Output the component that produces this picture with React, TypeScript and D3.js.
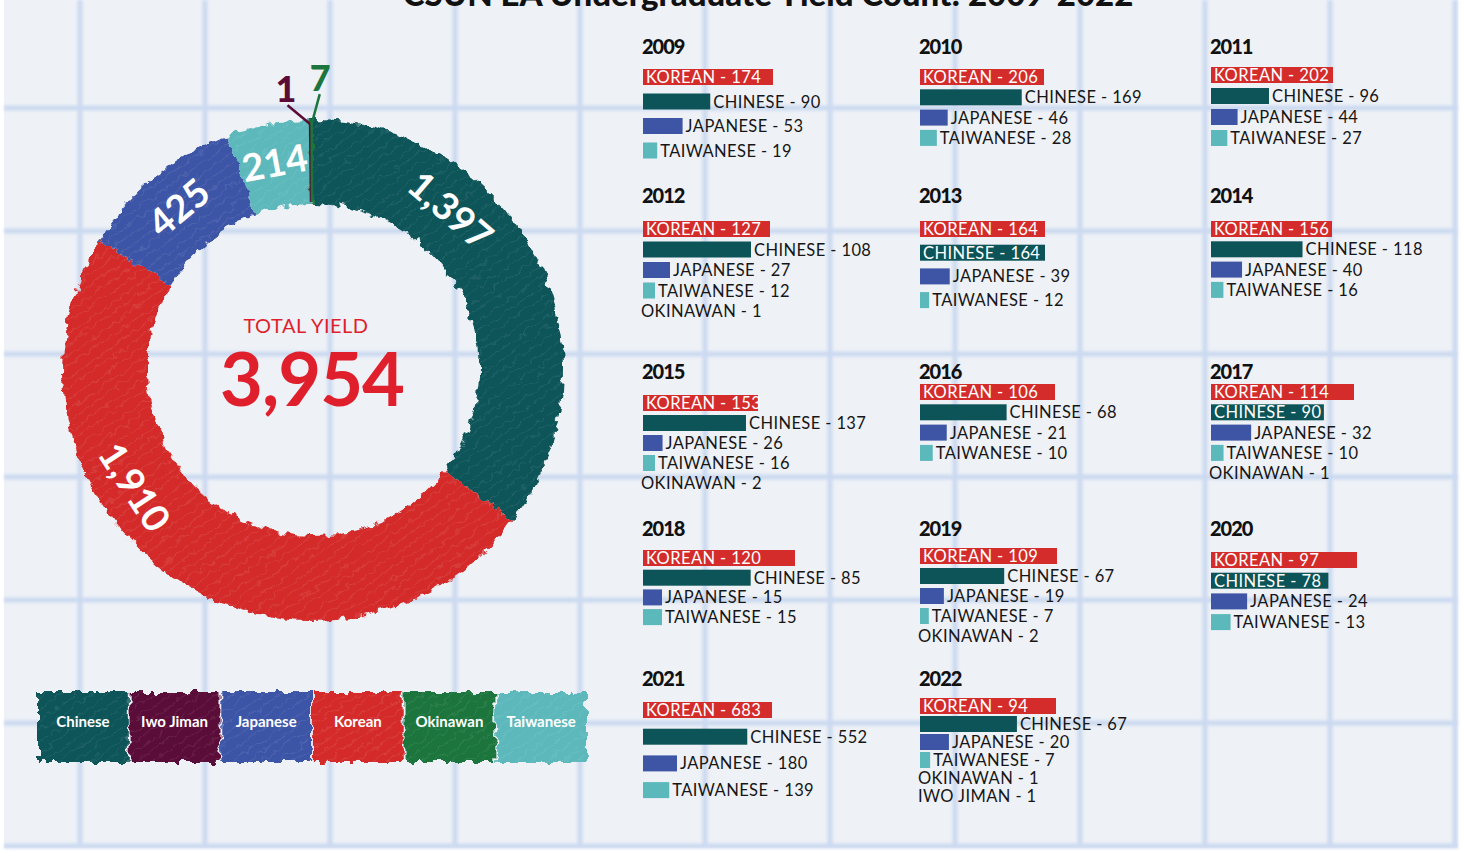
import React, { useEffect, useRef } from "react";
import * as d3 from "d3";

const W = 1465;
const H = 852;
const FONT = "Lato, 'Open Sans', sans-serif";

// donut totals, in the order they run clockwise from 12 o'clock
const groups = ["Chinese", "Korean", "Japanese", "Taiwanese", "Iwo Jiman", "Okinawan"];
const groupTotals = [1397, 1910, 425, 214, 1, 7];
const totalYield = 3954;

const legendNames = ["Chinese", "Iwo Jiman", "Japanese", "Korean", "Okinawan", "Taiwanese"];

// yearly panels
const years = ["2009", "2010", "2011", "2012", "2013", "2014", "2015", "2016", "2017", "2018", "2019", "2020", "2021", "2022"];
const korean = [174, 206, 202, 127, 164, 156, 153, 106, 114, 120, 109, 97, 683, 94];
const chinese = [90, 169, 96, 108, 164, 118, 137, 68, 90, 85, 67, 78, 552, 67];
const japanese = [53, 46, 44, 27, 39, 40, 26, 21, 32, 15, 19, 24, 180, 20];
const taiwanese = [19, 28, 27, 12, 12, 16, 16, 10, 10, 15, 7, 13, 139, 7];
const okinawan = [0, 0, 0, 1, 0, 0, 2, 0, 1, 0, 2, 0, 0, 1];
const iwoJiman = [0, 0, 0, 0, 0, 0, 0, 0, 0, 0, 0, 0, 0, 1];

const colors: Record<string, string> = {
  Chinese: "#0c5458",
  Korean: "#d42c2b",
  Japanese: "#3e55a6",
  Taiwanese: "#5bb8bb",
  "Iwo Jiman": "#5a0c37",
  Okinawan: "#1c753d",
};

// layout of the year panels (hand placed in the original)
const colX = [643, 920, 1211];
const rowY = [47, 196, 372, 529, 679];
const panelOffset = [30, 30, 28, 33, 33, 33, 31, 20, 20, 29, 27, 31, 31, 27];
const panelStep = [24.5, 20.3, 21, 20.5, 23.7, 20.3, 20, 20.3, 20.3, 19.7, 20, 20.7, 26.7, 18];
const panelBarMax = [130, 124, 122, 127, 125, 121, 115, 135, 143, 152, 137, 146, 129, 136];

// where along each arc its number sits
const labelAt = [0.32, 0.63, 0.5, 0.5];

function YieldChart() {
  const svgRef = useRef<SVGSVGElement>(null);

  useEffect(() => {
    const svg = d3.select(svgRef.current);
    svg.selectAll("*").remove();

    const defs = svg.append("defs");
    const rough = defs.append("filter").attr("id", "rough").attr("x", "-10%").attr("y", "-10%").attr("width", "120%").attr("height", "120%");
    rough.append("feTurbulence").attr("type", "fractalNoise").attr("baseFrequency", "0.11").attr("numOctaves", 2).attr("seed", 3).attr("result", "noise");
    rough.append("feDisplacementMap").attr("in", "SourceGraphic").attr("in2", "noise").attr("scale", 11).attr("xChannelSelector", "R").attr("yChannelSelector", "G");

    const hatch = defs.append("pattern").attr("id", "hatch").attr("patternUnits", "userSpaceOnUse")
      .attr("width", 9).attr("height", 9).attr("patternTransform", "rotate(-35)");
    hatch.append("line").attr("x1", 0).attr("y1", 0).attr("x2", 9).attr("y2", 0)
      .attr("stroke", "#ffffff").attr("stroke-width", 1).attr("stroke-opacity", 0.18);

    const soft = defs.append("filter").attr("id", "soft");
    soft.append("feGaussianBlur").attr("stdDeviation", 1.6);

    // graph paper
    svg.append("rect").attr("width", W).attr("height", H).attr("fill", "#ffffff");
    svg.append("rect").attr("x", 4).attr("width", W - 11).attr("height", H - 4).attr("fill", "#eef1f6");
    const grid = svg.append("g").attr("filter", "url(#soft)").attr("stroke", "#c6d6f0").attr("stroke-width", 5).attr("opacity", 0.85);
    grid.selectAll(".v").data(d3.range(80, W - 8, 125)).join("line").attr("class", "v")
      .attr("x1", d => d).attr("x2", d => d).attr("y1", 0).attr("y2", H - 4);
    grid.selectAll(".h").data(d3.range(108, H - 4, 123)).join("line").attr("class", "h")
      .attr("y1", d => d).attr("y2", d => d).attr("x1", 4).attr("x2", W - 7);

    // title, cut off by the top edge as in the original
    svg.append("text").attr("x", 768).attr("y", 6).attr("text-anchor", "middle")
      .attr("font-family", FONT).attr("font-weight", 900).attr("font-size", 33).attr("fill", "#111")
      .text("CSUN EA Undergraduate Yield Count: 2009-2022");

    // donut
    const cx = 313, cy = 370, rIn = 166, rOut = 250;
    const pie = d3.pie<number>().sort(null).value(d => d);
    const arcs = pie(groupTotals);
    const arc = d3.arc<d3.PieArcDatum<number>>().innerRadius(rIn).outerRadius(rOut);
    const donut = svg.append("g").attr("transform", `translate(${cx},${cy})`);
    const rings = donut.append("g").attr("filter", "url(#rough)");
    rings.selectAll(".seg").data(arcs).join("path").attr("class", "seg")
      .attr("d", arc).attr("fill", (d, i) => colors[groups[i]]);
    rings.selectAll(".tex").data(arcs).join("path").attr("class", "tex")
      .attr("d", arc).attr("fill", "url(#hatch)");

    const fmt = d3.format(",");
    arcs.forEach((a, i) => {
      if (i >= labelAt.length) return;
      const ang = a.startAngle + (a.endAngle - a.startAngle) * labelAt[i];
      const r = 212;
      let deg = (ang * 180) / Math.PI;
      if (deg > 90 && deg < 270) deg -= 180;
      if (deg >= 270) deg -= 360;
      donut.append("text")
        .attr("transform", `translate(${r * Math.sin(ang)},${-r * Math.cos(ang)}) rotate(${deg})`)
        .attr("text-anchor", "middle").attr("dominant-baseline", "central")
        .attr("font-family", FONT).attr("font-weight", 700).attr("font-size", 38).attr("fill", "#fff")
        .text(fmt(groupTotals[i]));
    });

    // the two tiny slices get call-out numbers
    const tiny = [
      { i: 4, angDeg: -5.5, r: 283 },
      { i: 5, angDeg: 1.4, r: 293 },
    ];
    tiny.forEach(t => {
      const a = arcs[t.i];
      const mid = (a.startAngle + a.endAngle) / 2;
      const la = (t.angDeg * Math.PI) / 180;
      const c = colors[groups[t.i]];
      donut.append("line")
        .attr("x1", (rOut - 4) * Math.sin(mid)).attr("y1", -(rOut - 4) * Math.cos(mid))
        .attr("x2", (t.r - 17) * Math.sin(la)).attr("y2", -(t.r - 17) * Math.cos(la))
        .attr("stroke", c).attr("stroke-width", 2.5);
      donut.append("line")
        .attr("x1", (rIn + 2) * Math.sin(mid)).attr("y1", -(rIn + 2) * Math.cos(mid))
        .attr("x2", (rOut - 4) * Math.sin(mid)).attr("y2", -(rOut - 4) * Math.cos(mid))
        .attr("stroke", c).attr("stroke-width", 2.5);
      donut.append("text")
        .attr("x", t.r * Math.sin(la)).attr("y", -t.r * Math.cos(la))
        .attr("text-anchor", "middle").attr("dominant-baseline", "central")
        .attr("font-family", FONT).attr("font-weight", 900).attr("font-size", 36).attr("fill", c)
        .text(fmt(groupTotals[t.i]));
    });

    donut.append("text").attr("x", -7).attr("y", -37).attr("text-anchor", "middle")
      .attr("font-family", FONT).attr("font-size", 20).attr("fill", "#e01f2c")
      .attr("letter-spacing", 0.5).text("TOTAL YIELD");
    donut.append("text").attr("x", -1).attr("y", 36).attr("text-anchor", "middle")
      .attr("font-family", FONT).attr("font-weight", 700).attr("font-size", 74).attr("fill", "#e01f2c")
      .attr("letter-spacing", -1).text(fmt(totalYield));

    // legend swatches
    const lx = d3.scaleBand().domain(legendNames).range([38, 586]).paddingInner(0.02);
    const legend = svg.append("g");
    const sw = legend.append("g").attr("filter", "url(#rough)");
    sw.selectAll(".sw").data(legendNames).join("rect").attr("class", "sw")
      .attr("x", d => lx(d)!).attr("y", 692).attr("width", lx.bandwidth()).attr("height", 70)
      .attr("fill", d => colors[d]);
    sw.selectAll(".swt").data(legendNames).join("rect").attr("class", "swt")
      .attr("x", d => lx(d)!).attr("y", 692).attr("width", lx.bandwidth()).attr("height", 70)
      .attr("fill", "url(#hatch)");
    legend.selectAll(".lt").data(legendNames).join("text").attr("class", "lt")
      .attr("x", d => lx(d)! + lx.bandwidth() / 2).attr("y", 727).attr("text-anchor", "middle")
      .attr("font-family", FONT).attr("font-weight", 700).attr("font-size", 15).attr("fill", "#fff")
      .text(d => d);

    // year panels
    years.forEach((year, i) => {
      const x0 = colX[i % 3];
      const y0 = rowY[Math.floor(i / 3)];
      const g = svg.append("g").attr("transform", `translate(${x0},${y0})`);
      g.append("text").attr("x", -1).attr("y", 7)
        .attr("font-family", FONT).attr("font-weight", 900).attr("font-size", 20)
        .attr("letter-spacing", -1).attr("fill", "#111").text(year);

      const x = d3.scaleLinear().domain([0, korean[i]]).range([0, panelBarMax[i]]);
      const rows = [
        { name: "KOREAN", v: korean[i], c: colors.Korean, bar: true },
        { name: "CHINESE", v: chinese[i], c: colors.Chinese, bar: true },
        { name: "JAPANESE", v: japanese[i], c: colors.Japanese, bar: true },
        { name: "TAIWANESE", v: taiwanese[i], c: colors.Taiwanese, bar: true },
        { name: "OKINAWAN", v: okinawan[i], c: colors.Okinawan, bar: false },
        { name: "IWO JIMAN", v: iwoJiman[i], c: colors["Iwo Jiman"], bar: false },
      ].filter(r => r.v > 0);

      rows.forEach((r, k) => {
        const yc = panelOffset[i] + k * panelStep[i];
        const w = r.bar ? x(r.v) : 0;
        if (r.bar) {
          g.append("rect").attr("x", 0).attr("y", yc - 8).attr("width", w).attr("height", 16).attr("fill", r.c);
        }
        const t = g.append("text").attr("y", yc + 6)
          .attr("font-family", FONT).attr("font-size", 16.5).attr("letter-spacing", 0.4).attr("fill", "#161616")
          .text(`${r.name} - ${r.v}`);
        const len = (t.node() as SVGTextElement).getComputedTextLength();
        if (r.bar && (k === 0 || len + 3 <= w)) {
          t.attr("x", 3).attr("fill", "#fff");
        } else {
          t.attr("x", r.bar ? w + 3 : -2);
        }
      });
    });
  }, []);

  return (
    <svg ref={svgRef} width={W} height={H} style={{ position: "absolute", left: 0, top: 0 }} />
  );
}

export default function App() {
  return <YieldChart />;
}
